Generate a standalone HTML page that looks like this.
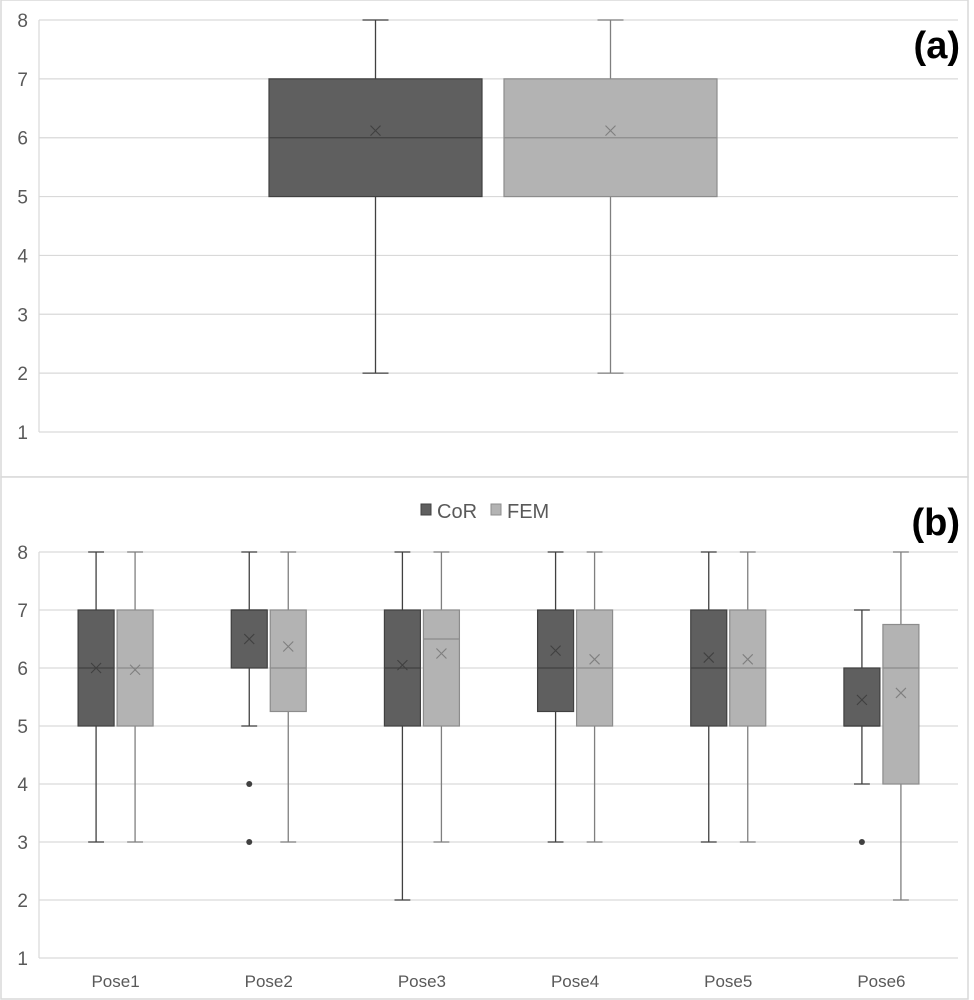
<!DOCTYPE html>
<html><head><meta charset="utf-8"><style>
body{margin:0;background:#fff;}
svg{display:block;font-family:"Liberation Sans","DejaVu Sans",sans-serif;}
</style></head><body>
<svg id="c" width="974" height="1000" viewBox="0 0 974 1000">
<rect x="1" y="0" width="967" height="477" fill="#fff" stroke="#d9d9d9" stroke-width="1.5"/>
<rect x="1" y="477" width="967" height="522" fill="#fff" stroke="#d9d9d9" stroke-width="1.5"/>
<g id="ga"></g>
<g id="gb"></g>
<text x="960" y="58" text-anchor="end" font-size="38" font-weight="bold" fill="#000">(a)</text>
<text x="960" y="535" text-anchor="end" font-size="38" font-weight="bold" fill="#000">(b)</text>
<g>
<rect x="421" y="504" width="10" height="11" fill="#5f5f5f" stroke="#404040"/>
<text x="437" y="518" font-size="20" fill="#595959">CoR</text>
<rect x="491" y="504" width="10" height="11" fill="#b3b3b3" stroke="#8c8c8c"/>
<text x="507" y="518" font-size="20" fill="#595959">FEM</text>
</g>
</svg>
<script>
const yTicks=[1,2,3,4,5,6,7,8];
const catsB=["Pose1","Pose2","Pose3","Pose4","Pose5","Pose6"];
// [min,q1,median,q3,max,mean]
const corA=[2,5,6,7,8,6.12];
const femA=[2,5,6,7,8,6.12];
const corB=[[3,5,6,7,8,6.0],[5,6,7,7,8,6.5],[2,5,6,7,8,6.05],[3,5.25,6,7,8,6.3],[3,5,6,7,8,6.18],[4,5,5,6,7,5.45]];
const femB=[[3,5,6,7,8,5.97],[3,5.25,6,7,8,6.37],[3,5,6.5,7,8,6.25],[3,5,6,7,8,6.15],[3,5,6,7,8,6.15],[2,4,6,6.75,8,5.57]];
const corOut=[[],[4,3],[],[],[],[3]];
const femOut=[[],[],[],[],[],[]];

const NS="http://www.w3.org/2000/svg";
function mk(p,t,a){const e=document.createElementNS(NS,t);for(const k in a)e.setAttribute(k,a[k]);p.appendChild(e);return e;}
const L=39,R=958;
const dark={fill:"#5f5f5f",stroke:"#404040",wh:"#404040",x:"#404040"};
const light={fill:"#b3b3b3",stroke:"#8c8c8c",wh:"#7f7f7f",x:"#7f7f7f"};

function axis(g,y,name){
  yTicks.forEach(t=>{
    const l=mk(g,"line",{x1:L,x2:R,y1:y(t),y2:y(t),stroke:"#d9d9d9","stroke-width":1.2});
    
    
    const tx=mk(g,"text",{x:L-11,y:y(t)+7,"text-anchor":"end","font-size":"19",fill:"#595959"});
    tx.textContent=t;
    
    
  });
  const ax=mk(g,"line",{x1:L,x2:L,y1:y(8),y2:y(1),stroke:"#d9d9d9","stroke-width":1.2});
  
  
}
function box(g,y,cx,w,d,c,outs,name){
  const bg=mk(g,"g",{});
  
  
  const cap=Math.min(w*0.22,13);
  mk(bg,"line",{x1:cx,x2:cx,y1:y(d[4]),y2:y(d[3]),stroke:c.wh,"stroke-width":1.3});
  mk(bg,"line",{x1:cx,x2:cx,y1:y(d[1]),y2:y(d[0]),stroke:c.wh,"stroke-width":1.3});
  mk(bg,"line",{x1:cx-cap,x2:cx+cap,y1:y(d[4]),y2:y(d[4]),stroke:c.wh,"stroke-width":1.3});
  mk(bg,"line",{x1:cx-cap,x2:cx+cap,y1:y(d[0]),y2:y(d[0]),stroke:c.wh,"stroke-width":1.3});
  mk(bg,"rect",{x:cx-w/2,y:y(d[3]),width:w,height:y(d[1])-y(d[3]),fill:c.fill,stroke:c.stroke,"stroke-width":1.2});
  mk(bg,"line",{x1:cx-w/2,x2:cx+w/2,y1:y(d[2]),y2:y(d[2]),stroke:c.stroke,"stroke-width":1.2});
  const m=y(d[5]),s=5;
  mk(bg,"path",{d:`M${cx-s} ${m-s}L${cx+s} ${m+s}M${cx+s} ${m-s}L${cx-s} ${m+s}`,stroke:c.x,"stroke-width":1.1,fill:"none"});
  outs.forEach(o=>{
    const ci=mk(bg,"circle",{cx:cx,cy:y(o),r:3,fill:"#404040"});
    
    
  });
}
// Panel a
const ya=v=>432-(v-1)*(412/7);
const ga=document.getElementById("ga");
axis(ga,ya,"panel-a");
box(ga,ya,375.5,213,corA,dark,[],"panel-a-box-cor");
box(ga,ya,610.5,213,femA,light,[],"panel-a-box-fem");
// Panel b
const yb=v=>958-(v-1)*(406/7);
const gb=document.getElementById("gb");
axis(gb,yb,"panel-b");
const cw=(R-L)/catsB.length;
catsB.forEach((c,i)=>{
  const cx=L+cw*(i+0.5);
  box(gb,yb,cx-19.5,36,corB[i],dark,corOut[i],"box-cor-"+c.toLowerCase());
  box(gb,yb,cx+19.5,36,femB[i],light,femOut[i],"box-fem-"+c.toLowerCase());
  const t=mk(gb,"text",{x:cx,y:987,"text-anchor":"middle","font-size":"17",fill:"#595959"});
  t.textContent=c;
  
  
});
</script>
</body></html>
